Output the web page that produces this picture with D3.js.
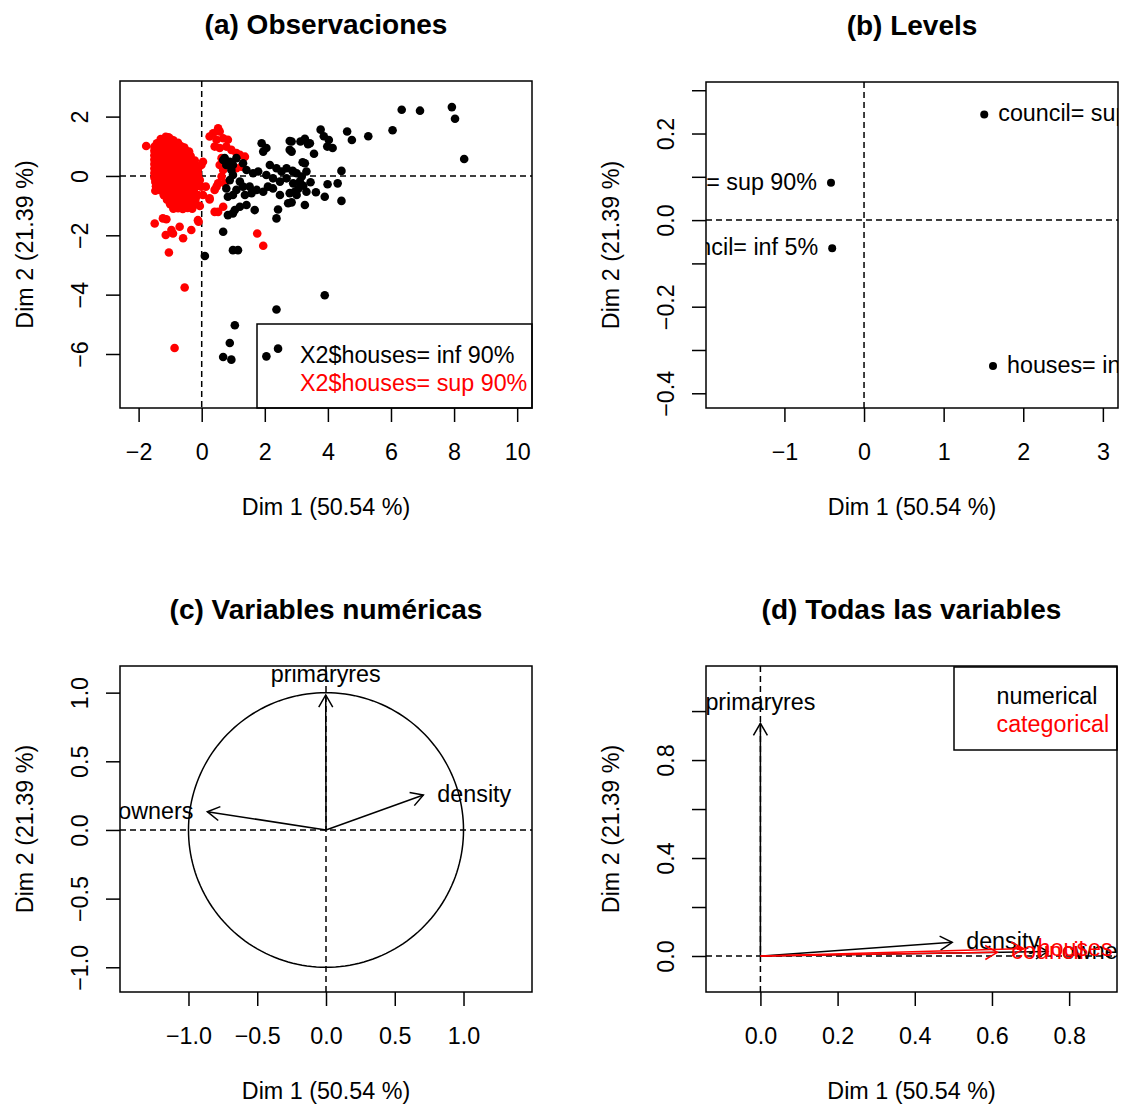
<!DOCTYPE html>
<html>
<head>
<meta charset="utf-8">
<script src="https://cdn.jsdelivr.net/npm/d3@7"></script>
<style>
  html, body { margin: 0; padding: 0; background: #fff; }
  svg { display: block; }
</style>
</head>
<body>
<script>
// ---------------- DATA ----------------
// (a) individuals, group "X2$houses= inf 90%" (black)  [Dim1, Dim2]
const obsInf90 = [
  [6.34,2.23],[6.92,2.20],[7.93,2.32],[8.03,1.93],[8.32,0.57],[6.05,1.54],[5.28,1.34],[4.61,1.50],
  [4.76,1.21],[3.77,1.56],[3.87,1.34],[4.03,1.21],[3.98,0.99],[4.15,0.94],[3.56,0.75],[3.27,1.25],
  [3.13,1.16],[3.37,1.07],[3.43,1.10],[2.85,1.16],[2.85,0.82],[3.20,0.46],[3.27,0.43],[4.43,0.17],
  [2.88,0.17],[3.01,0.09],[3.17,-0.02],[3.45,-0.21],[3.22,-0.33],[3.06,-0.44],[2.95,-0.53],[3.99,-0.28],
  [4.31,-0.25],[3.62,-0.55],[3.90,-0.70],[4.43,-0.84],[2.85,-0.89],[3.27,-0.98],[3.01,-0.64],
  [1.90,1.10],[2.05,0.94],[1.95,0.82],[2.79,1.18],[2.79,0.88],[0.73,0.60],[0.89,0.48],[0.99,0.37],
  [1.10,0.60],[1.31,0.43],[0.99,0.03],[1.42,0.20],[1.63,0.09],[1.79,0.15],[2.16,0.37],[2.37,0.26],
  [2.53,0.15],[2.69,0.26],[2.90,0.15],[3.32,0.15],[2.05,0.03],[2.26,-0.08],[2.48,-0.19],[2.69,-0.08],
  [2.90,-0.25],[3.11,-0.19],[1.21,-0.19],[1.31,-0.36],[1.52,-0.36],[1.74,-0.47],[1.95,-0.53],[0.78,-0.42],
  [0.99,-0.64],[1.37,-0.64],[1.58,-0.58],[2.48,-0.64],[2.79,-0.58],[3.32,-0.53],[2.10,-0.36],[2.26,-0.42],
  [2.74,-0.92],[2.42,-1.13],[2.37,-1.43],[1.42,-0.98],[1.21,-1.04],[1.05,-1.15],[0.83,-1.32],[0.68,-1.88],
  [0.99,-1.26],[1.68,-1.15],[0.99,-2.50],[1.15,-2.50],[0.10,-2.70],[3.90,-4.02],[2.37,-4.50],[1.05,-5.03],
  [0.89,-5.63],[0.68,-6.10],[0.94,-6.19],[2.05,-6.08],[2.42,-5.82],[0.68,0.54],[0.78,0.37],[0.94,0.20],
  [0.89,-0.14],[1.10,-0.47],[0.83,-0.70]
];
// (a) individuals, group "X2$houses= sup 90%" (red)  [Dim1, Dim2]
const obsSup90 = [
  [-1.14,1.32],[-1.05,1.30],
  [-1.30,1.24],[-1.15,1.22],[-1.00,1.25],[-0.90,1.20],
  [-1.42,1.10],[-1.30,1.12],[-1.15,1.09],[-1.00,1.11],[-0.85,1.08],[-0.75,1.12],[-1.76,1.01],
  [-1.50,0.98],[-1.37,1.00],[-1.25,0.97],[-1.10,1.01],[-0.95,0.99],[-0.80,0.98],[-0.65,1.00],[-0.55,0.96],
  [-1.50,0.85],[-1.37,0.84],[-1.25,0.86],[-1.10,0.83],[-0.95,0.85],[-0.80,0.87],[-0.65,0.84],[-0.50,0.85],[-0.40,0.82],
  [-1.50,0.70],[-1.37,0.71],[-1.25,0.69],[-1.10,0.72],[-0.95,0.70],[-0.80,0.68],[-0.65,0.71],[-0.50,0.70],[-0.35,0.67],
  [-1.50,0.55],[-1.37,0.56],[-1.25,0.54],[-1.10,0.57],[-0.95,0.55],[-0.80,0.53],[-0.65,0.56],[-0.50,0.55],[-0.35,0.54],[-0.22,0.52],
  [-1.50,0.40],[-1.37,0.41],[-1.25,0.39],[-1.10,0.42],[-0.95,0.40],[-0.80,0.38],[-0.65,0.41],[-0.50,0.40],[-0.35,0.39],[-0.22,0.41],
  [-1.50,0.25],[-1.37,0.26],[-1.25,0.24],[-1.10,0.27],[-0.95,0.25],[-0.80,0.23],[-0.65,0.26],[-0.50,0.25],[-0.35,0.24],[-0.22,0.26],[-0.12,0.22],
  [-1.50,0.10],[-1.37,0.11],[-1.25,0.09],[-1.10,0.12],[-0.95,0.10],[-0.80,0.08],[-0.65,0.11],[-0.50,0.10],[-0.35,0.09],[-0.22,0.11],[-0.12,0.07],
  [-1.50,-0.05],[-1.37,-0.04],[-1.25,-0.06],[-1.10,-0.03],[-0.95,-0.05],[-0.80,-0.07],[-0.65,-0.04],[-0.50,-0.05],[-0.35,-0.06],[-0.22,-0.04],[-0.10,-0.08],
  [-1.47,-0.20],[-1.35,-0.19],[-1.20,-0.21],[-1.05,-0.18],[-0.90,-0.20],[-0.75,-0.22],[-0.60,-0.19],[-0.45,-0.20],[-0.30,-0.21],[-0.17,-0.19],
  [-1.45,-0.35],[-1.30,-0.34],[-1.15,-0.36],[-1.00,-0.33],[-0.85,-0.35],[-0.70,-0.37],[-0.55,-0.34],[-0.40,-0.35],[-0.25,-0.36],[-0.14,-0.34],
  [-1.47,-0.50],[-1.30,-0.49],[-1.15,-0.51],[-1.00,-0.48],[-0.85,-0.50],[-0.70,-0.52],[-0.55,-0.49],[-0.40,-0.50],[-0.25,-0.51],
  [-1.20,-0.65],[-1.05,-0.64],[-0.90,-0.66],[-0.75,-0.63],[-0.60,-0.65],[-0.45,-0.67],[-0.30,-0.64],[-0.17,-0.65],
  [-1.10,-0.80],[-0.95,-0.79],[-0.80,-0.81],[-0.65,-0.78],[-0.50,-0.80],[-0.35,-0.82],[-0.20,-0.79],
  [-1.00,-0.95],[-0.85,-0.94],[-0.70,-0.96],[-0.55,-0.93],[-0.40,-0.95],[-0.25,-0.97],
  [-0.90,-1.10],[-0.75,-1.09],[-0.60,-1.11],[-0.45,-1.08],[-0.30,-1.10],
  [-1.49,-1.60],[-1.12,-1.46],[-0.96,-1.82],[-0.59,-2.10],[-0.33,-1.82],[-0.12,-1.49],[-1.04,-2.58],
  [-0.91,-1.94],[-1.14,-1.99],[-0.70,-1.71],[-1.23,-1.43],[-0.06,-1.01],[0.25,-0.79],[0.41,-1.21],
  [0.52,-1.21],[0.68,-1.04],[-0.54,-3.76],[-0.86,-5.80],[1.76,-1.94],[1.95,-2.35],[-0.12,-0.64],[-0.10,-1.54],
  [0.52,1.61],[0.57,1.50],[0.36,1.44],[0.25,1.33],[0.47,1.22],[0.68,1.27],[0.83,1.22],[0.41,0.99],
  [0.57,0.94],[0.78,0.99],[0.94,0.88],[1.10,0.77],[1.21,0.71],[1.37,0.65],[0.63,0.60],[0.57,0.37],
  [0.68,0.20],[0.63,-0.02],[0.73,-0.25],[1.10,0.26],[1.26,0.31],[0.52,-0.25],[0.47,-0.36],[0.41,-0.47],
  [0.13,-0.36],[0.04,-0.64],[-0.01,0.37],[0.04,0.48],[-0.06,-0.14],[-0.01,-0.36],[0.25,-0.75]
];
const obsLegend = ["X2$houses= inf 90%", "X2$houses= sup 90%"];

// (b) levels
const levelNames = ["council= sup 5%", "houses= sup 90%", "council= inf 5%", "houses= inf 90%"];
const levelDim1  = [1.51, -0.415, -0.40, 1.62];
const levelDim2  = [0.244, 0.086, -0.065, -0.337];
const levelSide  = ["right", "left", "left", "right"];

// (c) numerical variables (correlation circle)
const numVarNames = ["primaryres", "density", "owners"];
const numCorDim1  = [-0.002, 0.708, -0.863];
const numCorDim2  = [0.983, 0.255, 0.133];
const numCorSide  = ["top", "right", "left"];

// (d) all variables
const allNumNames = ["primaryres", "density", "owners"];
const allNumDim1  = [0.0, 0.497, 0.745];
const allNumDim2  = [0.95, 0.056, 0.018];
const allNumSide  = ["top", "right", "right"];
const allCatNames = ["council", "houses"];
const allCatDim1  = [0.614, 0.682];
const allCatDim2  = [0.015, 0.030];
const allLegend   = ["numerical", "categorical"];

// ticks
const aXTicks = [-2, 0, 2, 4, 6, 8, 10];
const aYTicks = [-6, -4, -2, 0, 2];
const bXTicks = [-1, 0, 1, 2, 3];
const bYTicks = [-0.4, -0.3, -0.2, -0.1, 0, 0.1, 0.2, 0.3];
const cXTicks = [-1.0, -0.5, 0.0, 0.5, 1.0];
const cYTicks = [-1.0, -0.5, 0.0, 0.5, 1.0];
const dXTicks = [0.0, 0.2, 0.4, 0.6, 0.8];
const dYTicks = [0.0, 0.2, 0.4, 0.6, 0.8, 1.0];

const xTitle = "Dim 1 (50.54 %)";
const yTitle = "Dim 2 (21.39 %)";

// ---------------- DRAWING ----------------
const W = 1121, H = 1106;
const FONT = "'Liberation Sans', Arial, Helvetica, sans-serif";
const FS = 23.3, TFS = 28;
const LW = 1.5;
const RED = "#FF0000";
const DASH = "6,4";

const svg = d3.select("body").append("svg").attr("width", W).attr("height", H)
  .style("font-family", FONT);

function makePanel(p) {
  const x = d3.scaleLinear().domain(p.xDomain).range([p.left, p.right]);
  const y = d3.scaleLinear().domain(p.yDomain).range([p.bottom, p.top]);
  const clipId = "clip-" + p.id;
  svg.append("clipPath").attr("id", clipId).append("rect")
    .attr("x", p.left).attr("y", p.top)
    .attr("width", p.right - p.left).attr("height", p.bottom - p.top);
  const plot = svg.append("g").attr("clip-path", `url(#${clipId})`);

  // zero reference lines
  plot.append("line").attr("x1", p.left).attr("x2", p.right).attr("y1", y(0)).attr("y2", y(0))
    .attr("stroke", "#000").attr("stroke-width", LW).attr("stroke-dasharray", DASH);
  plot.append("line").attr("y1", p.top).attr("y2", p.bottom).attr("x1", x(0)).attr("x2", x(0))
    .attr("stroke", "#000").attr("stroke-width", LW).attr("stroke-dasharray", DASH);

  // x axis
  const gx = svg.append("g").attr("transform", `translate(0,${p.bottom})`)
    .call(d3.axisBottom(x).tickValues(p.xTicks).tickSize(14).tickFormat(p.xFmt));
  gx.select(".domain").remove();
  gx.selectAll(".tick line").attr("stroke", "#000").attr("stroke-width", LW);
  gx.selectAll(".tick text").attr("y", 52).attr("dy", null)
    .attr("font-size", FS).attr("font-family", FONT).attr("fill", "#000");

  // y axis
  const gy = svg.append("g").attr("transform", `translate(${p.left},0)`)
    .call(d3.axisLeft(y).tickValues(p.yTicks).tickSize(14).tickFormat(p.yFmt));
  gy.select(".domain").remove();
  gy.selectAll(".tick line").attr("stroke", "#000").attr("stroke-width", LW);
  gy.selectAll(".tick text").attr("x", 0).attr("dy", null)
    .attr("transform", "translate(-32.5,0) rotate(-90)")
    .attr("text-anchor", "middle")
    .attr("font-size", FS).attr("font-family", FONT).attr("fill", "#000");

  // titles
  const cx = (p.left + p.right) / 2, cy = (p.top + p.bottom) / 2;
  svg.append("text").attr("x", cx).attr("y", p.top - 47).attr("text-anchor", "middle")
    .attr("font-size", TFS).attr("font-weight", "bold").text(p.title);
  svg.append("text").attr("x", cx).attr("y", p.bottom + 107).attr("text-anchor", "middle")
    .attr("font-size", FS).text(xTitle);
  svg.append("text").attr("transform", `translate(${p.left - 87.5},${cy}) rotate(-90)`)
    .attr("text-anchor", "middle").attr("font-size", FS).text(yTitle);

  return { x, y, plot, p };
}

function drawBox(p) {
  svg.append("rect").attr("x", p.left).attr("y", p.top)
    .attr("width", p.right - p.left).attr("height", p.bottom - p.top)
    .attr("fill", "none").attr("stroke", "#000").attr("stroke-width", LW);
}

function arrow(g, x0, y0, x1, y1, color) {
  g.append("line").attr("x1", x0).attr("y1", y0).attr("x2", x1).attr("y2", y1)
    .attr("stroke", color).attr("stroke-width", LW);
  const ang = Math.atan2(y1 - y0, x1 - x0), L = 14, a = Math.PI / 6;
  const d = `M${x1 - L * Math.cos(ang - a)},${y1 - L * Math.sin(ang - a)}L${x1},${y1}` +
            `L${x1 - L * Math.cos(ang + a)},${y1 - L * Math.sin(ang + a)}`;
  g.append("path").attr("d", d).attr("fill", "none").attr("stroke", color).attr("stroke-width", LW);
}

function label(g, px, py, txt, side, color) {
  const t = g.append("text").attr("font-size", FS).attr("fill", color).text(txt);
  if (side === "right") t.attr("x", px + 14).attr("y", py + 7).attr("text-anchor", "start");
  else if (side === "left") t.attr("x", px - 14).attr("y", py + 7).attr("text-anchor", "end");
  else t.attr("x", px).attr("y", py - 13).attr("text-anchor", "middle");
}

const fInt = d3.format("d"), f1 = d3.format(".1f");

// ---- (a) Observaciones ----
{
  const P = makePanel({
    id: "a", left: 120, right: 532, top: 81, bottom: 408,
    xDomain: [-2.59, 10.47], yDomain: [-7.82, 3.20],
    xTicks: aXTicks, yTicks: aYTicks, xFmt: fInt, yFmt: fInt,
    title: "(a) Observaciones"
  });
  P.plot.selectAll("circle.sup").data(obsSup90).join("circle").attr("class", "sup")
    .attr("cx", d => P.x(d[0])).attr("cy", d => P.y(d[1])).attr("r", 4.3).attr("fill", RED);
  P.plot.selectAll("circle.inf").data(obsInf90).join("circle").attr("class", "inf")
    .attr("cx", d => P.x(d[0])).attr("cy", d => P.y(d[1])).attr("r", 4.3).attr("fill", "#000");
  // legend (bottom right)
  const lg = svg.append("g");
  lg.append("rect").attr("x", 257).attr("y", 324).attr("width", 532 - 257).attr("height", 408 - 324)
    .attr("fill", "none").attr("stroke", "#000").attr("stroke-width", LW);
  obsLegend.forEach((t, i) => {
    lg.append("text").attr("x", 300).attr("y", 363 + i * 27.5).attr("font-size", FS)
      .attr("fill", i === 0 ? "#000" : RED).text(t);
  });
  drawBox(P.p);
}

// ---- (b) Levels ----
{
  const P = makePanel({
    id: "b", left: 706, right: 1118, top: 82, bottom: 408,
    xDomain: [-1.985, 3.19], yDomain: [-0.434, 0.319],
    xTicks: bXTicks, yTicks: bYTicks, xFmt: fInt,
    yFmt: d => (Math.abs(Math.round(d * 10)) % 2 === 0 ? f1(d) : ""),
    title: "(b) Levels"
  });
  levelNames.forEach((n, i) => {
    const px = P.x(levelDim1[i]), py = P.y(levelDim2[i]);
    P.plot.append("circle").attr("cx", px).attr("cy", py).attr("r", 4).attr("fill", "#000");
    label(P.plot, px, py, n, levelSide[i], "#000");
  });
  drawBox(P.p);
}

// ---- (c) Variables numéricas ----
{
  const P = makePanel({
    id: "c", left: 120, right: 532, top: 666, bottom: 992,
    xDomain: [-1.498, 1.498], yDomain: [-1.18, 1.194],
    xTicks: cXTicks, yTicks: cYTicks, xFmt: f1, yFmt: f1,
    title: "(c) Variables numéricas"
  });
  const angles = d3.range(0, 361, 2).map(a => a * Math.PI / 180);
  P.plot.append("path")
    .attr("d", d3.line().x(a => P.x(Math.cos(a))).y(a => P.y(Math.sin(a)))(angles))
    .attr("fill", "none").attr("stroke", "#000").attr("stroke-width", LW);
  numVarNames.forEach((n, i) => {
    const px = P.x(numCorDim1[i]), py = P.y(numCorDim2[i]);
    arrow(P.plot, P.x(0), P.y(0), px, py, "#000");
    label(P.plot, px, py, n, numCorSide[i], "#000");
  });
  drawBox(P.p);
}

// ---- (d) Todas las variables ----
{
  const P = makePanel({
    id: "d", left: 706, right: 1117, top: 666, bottom: 992,
    xDomain: [-0.141, 0.924], yDomain: [-0.147, 1.184],
    xTicks: dXTicks, yTicks: dYTicks, xFmt: f1,
    yFmt: d => (Math.abs(Math.round(d * 10)) % 4 === 0 ? f1(d) : ""),
    title: "(d) Todas las variables"
  });
  allNumNames.forEach((n, i) => {
    arrow(P.plot, P.x(0), P.y(0), P.x(allNumDim1[i]), P.y(allNumDim2[i]), "#000");
  });
  allNumNames.forEach((n, i) => {
    label(P.plot, P.x(allNumDim1[i]), P.y(allNumDim2[i]), n, allNumSide[i], "#000");
  });
  allCatNames.forEach((n, i) => {
    arrow(P.plot, P.x(0), P.y(0), P.x(allCatDim1[i]), P.y(allCatDim2[i]), RED);
  });
  allCatNames.forEach((n, i) => {
    label(P.plot, P.x(allCatDim1[i]), P.y(allCatDim2[i]), n, "right", RED);
  });
  // legend (top right)
  const lg = svg.append("g");
  lg.append("rect").attr("x", 954).attr("y", 667).attr("width", 1117 - 954).attr("height", 750 - 667)
    .attr("fill", "#fff").attr("stroke", "#000").attr("stroke-width", LW);
  allLegend.forEach((t, i) => {
    lg.append("text").attr("x", 996.5).attr("y", 704 + i * 27.5).attr("font-size", FS)
      .attr("fill", i === 0 ? "#000" : RED).text(t);
  });
  drawBox(P.p);
}
</script>
</body>
</html>
